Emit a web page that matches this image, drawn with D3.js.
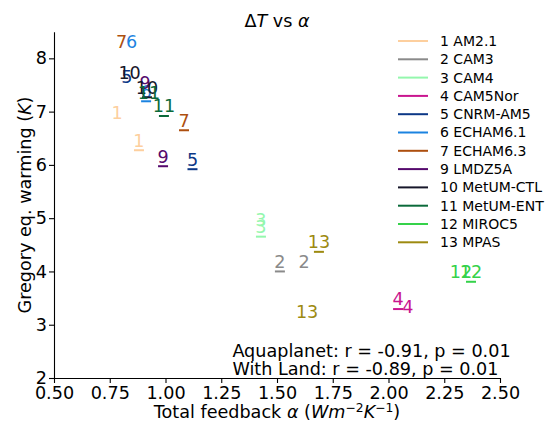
<!DOCTYPE html>
<html><head><meta charset="utf-8">
<script src="https://cdn.jsdelivr.net/npm/d3@7"></script>
<style>body{margin:0;background:#fff} text{font-family:"DejaVu Sans",sans-serif}</style>
</head><body><svg id="c" width="555" height="424"></svg>
<script>
const models = ["1 AM2.1","2 CAM3","3 CAM4","4 CAM5Nor","5 CNRM-AM5","6 ECHAM6.1","7 ECHAM6.3","9 LMDZ5A","10 MetUM-CTL","11 MetUM-ENT","12 MIROC5","13 MPAS"];
const ids = ["1","2","3","4","5","6","7","9","10","11","12","13"];
const colors = ["#fdcf9e","#8a8a8a","#94f7ad","#c9158f","#0c3786","#1b83e0","#ad4f0f","#55096d","#17172a","#0b6a3a","#35d24a","#9d8a10"];
// underlined set (marker "_")
const aquaX = [0.881,1.513,1.428,2.043,1.121,0.913,1.083,0.989,0.917,0.993,2.370,1.688];
const aquaY = [6.275,4.000,4.653,3.294,5.919,7.194,6.650,5.975,7.269,6.918,3.806,4.368];
// plain text set
const landX = [0.783,1.621,1.428,2.087,0.827,0.848,0.803,0.908,0.839,0.926,2.325,1.635];
const landY = [6.800,3.990,4.775,3.153,7.466,8.128,8.128,7.350,7.541,7.166,3.810,3.054];
const xTicks = [0.5,0.75,1.0,1.25,1.5,1.75,2.0,2.25,2.5];
const yTicks = [2,3,4,5,6,7,8];
const statLines = ["Aquaplanet: r = -0.91, p = 0.01","With Land: r = -0.89, p = 0.01"];
const statX = 1.3;

const svg = d3.select("#c");
const FS = 17.6;
const x = d3.scaleLinear([0.5,2.5],[54,500]);
const y = d3.scaleLinear([2,8.5],[378,31.7]);

// axes
const gx = svg.append("g").attr("transform","translate(0,378)")
  .call(d3.axisBottom(x).tickValues(xTicks).tickFormat(d3.format(".2f")).tickSize(5).tickPadding(3.4).tickSizeOuter(0));
const gy = svg.append("g").attr("transform","translate(54,0)")
  .call(d3.axisLeft(y).tickValues(yTicks).tickFormat(d3.format("d")).tickSize(5).tickPadding(2).tickSizeOuter(0));
[gx,gy].forEach(g=>{
  g.selectAll("text").attr("font-size",FS).attr("fill","#000").style("font-family","DejaVu Sans");
  g.selectAll("line,path").attr("stroke","#000").attr("stroke-width",1.1);
});

// labels
const pts = svg.append("g");
ids.forEach((id,i)=>{
  pts.append("text").attr("x",x(landX[i])).attr("y",y(landY[i])-3.7)
    .attr("text-anchor","middle").attr("font-size",FS).attr("fill",colors[i]).text(id);
  pts.append("text").attr("x",x(aquaX[i])).attr("y",y(aquaY[i])-3.7)
    .attr("text-anchor","middle").attr("font-size",FS).attr("fill",colors[i]).text(id);
  pts.append("line").attr("x1",x(aquaX[i])-5).attr("x2",x(aquaX[i])+5)
    .attr("y1",y(aquaY[i])).attr("y2",y(aquaY[i])).attr("stroke",colors[i]).attr("stroke-width",2);
});

// title
const t = svg.append("text").attr("x",277).attr("y",27).attr("text-anchor","middle").attr("font-size",FS);
t.append("tspan").text("Δ");
t.append("tspan").attr("font-style","italic").text("T");
t.append("tspan").text(" vs ");
t.append("tspan").attr("font-style","italic").text("α");

// x label
const xl = svg.append("text").attr("x",277).attr("y",418).attr("text-anchor","middle").attr("font-size",FS);
xl.append("tspan").text("Total feedback ");
xl.append("tspan").attr("font-style","italic").text("α");
xl.append("tspan").text(" (");
xl.append("tspan").attr("font-style","italic").text("Wm");
xl.append("tspan").attr("font-size",FS*0.7).attr("dy",-6.5).text("−2");
xl.append("tspan").attr("font-style","italic").attr("dy",6.5).text("K");
xl.append("tspan").attr("font-size",FS*0.7).attr("dy",-6.5).text("−1");
xl.append("tspan").attr("dy",6.5).text(")");

// y label
const yl = svg.append("text").attr("transform","translate(31,205) rotate(-90)").attr("text-anchor","middle").attr("font-size",FS);
yl.append("tspan").text("Gregory eq. warming (");
yl.append("tspan").attr("font-style","italic").text("K");
yl.append("tspan").text(")");

// stats annotation
statLines.forEach((s,i)=>{
  svg.append("text").attr("x",x(statX)).attr("y",357+i*18).attr("font-size",FS).attr("fill","#000").text(s);
});

// legend
const lg = svg.append("g");
models.forEach((m,i)=>{
  const yy = 41 + i*18.3;
  lg.append("line").attr("x1",398).attr("x2",428).attr("y1",yy).attr("y2",yy)
    .attr("stroke",colors[i]).attr("stroke-width",2);
  lg.append("text").attr("x",440).attr("y",yy).attr("dy","0.35em").attr("font-size",14).attr("fill","#000").text(m);
});
</script></body></html>
